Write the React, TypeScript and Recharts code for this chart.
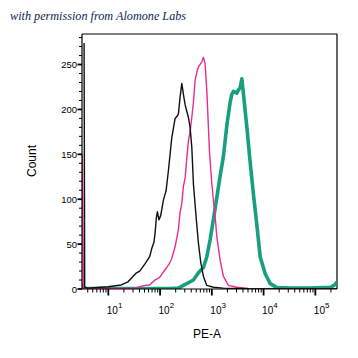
import { LineChart, Line, XAxis, YAxis, ReferenceLine } from "recharts";

// ─── Data (PE-A intensity vs. event count) ───────────────

// black: unstained control
const unstainedPE = [3.4, 3.5, 4.0, 6.9, 9.9, 17.8, 24, 30, 35, 40.5, 51, 63, 69, 76, 80, 85, 89, 95, 103, 116, 127, 131, 145, 168, 195, 211, 226, 244, 263, 282, 305, 328, 353, 380, 410, 441, 497, 551, 613, 688, 800, 1074, 1655, 5000, 262144];
const unstainedCount = [274, 2, 1, 2, 2.5, 4.5, 8, 14, 18, 20, 28, 36, 45, 52, 62, 80, 86, 77, 82, 99, 107, 110, 132, 168, 190, 192, 195, 214, 229, 217, 205, 198, 191, 180, 158, 117, 80, 51, 29, 14, 4, 2, 1, 0.3, 0];

// pink: isotype / blocked
const isotypePE = [3.15, 3.3, 30, 35, 41, 51, 63, 79, 98, 119, 135, 150, 168, 195, 226, 244, 263, 282, 305, 328, 353, 380, 410, 441, 475, 520, 560, 641, 688, 742, 800, 899, 1000, 1159, 1250, 1448, 1676, 2094, 3047, 5000, 262144];
const isotypeCount = [150, 0.5, 0.5, 1.5, 2.5, 4, 4.5, 10, 13, 20, 24, 28, 34, 47, 66, 86, 95, 114, 124, 145, 165, 175, 191, 208, 232, 243, 248, 253, 258, 251, 221, 154, 117, 80, 58, 32, 14, 4, 2, 0.5, 0];

// teal: stained
const stainedPE = [3.1, 3.4, 150, 226, 282, 441, 551, 688, 800, 927, 1074, 1159, 1448, 1676, 1948, 2259, 2436, 2618, 3047, 3273, 3525, 3800, 4085, 4753, 5505, 6379, 7419, 8590, 10740, 13420, 18090, 32700, 79800, 200000, 240000, 262144];
const stainedCount = [6, 0.5, 0.5, 1, 4, 10, 18, 24, 36, 55, 78, 90, 126, 148, 182, 208, 217, 220, 218, 222, 224, 234, 217, 180, 141, 105, 71, 36, 17, 6, 1.5, 1, 1, 2, 5, 8];

// ─── Axis ticks ───────────────────────────────────────────────────────────────

const xMajorTicks = [10, 100, 1000, 10000, 100000];
const xMajorExp = ["1", "2", "3", "4", "5"];
const xDecades = [1, 10, 100, 1000, 10000, 100000];
const xMinorSteps = [2, 3, 4, 5, 6, 7, 8, 9];
const yMajorTicks = [0, 50, 100, 150, 200, 250];
const yTicks = [0, 10, 20, 30, 40, 50, 60, 70, 80, 90, 100, 110, 120, 130, 140, 150, 160, 170, 180, 190, 200, 210, 220, 230, 240, 250, 260, 270, 280];

const X_MIN = 3.1;
const X_MAX = 262144;
const Y_MAX = 284;

const xMinorTicks = xDecades
  .flatMap((d) => xMinorSteps.map((s) => s * d))
  .filter((v) => v > X_MIN && v < X_MAX);
const xTicks = [...xMinorTicks, ...xMajorTicks].sort((a, b) => a - b);

const toPoints = (xs: number[], ys: number[]) => xs.map((x, i) => ({ x, y: ys[i] }));

const unstained = toPoints(unstainedPE, unstainedCount);
const isotype = toPoints(isotypePE, isotypeCount);
const stained = toPoints(stainedPE, stainedCount);

const sans = "'Liberation Sans', Arial, sans-serif";

// ─── Custom ticks ─────────────────────────────────────────────────────────────

function XTick({ x, y, payload }: { x: number; y: number; payload: { value: number } }) {
  const idx = xMajorTicks.indexOf(payload.value);
  const major = idx >= 0;
  return (
    <g>
      <line
        x1={x}
        x2={x}
        y1={y}
        y2={y + (major ? 6.5 : 3.5)}
        stroke="#000"
        strokeWidth={major ? 1.8 : 1}
      />
      {major && (
        <text x={x - 1.5} y={y + 24.5} fontSize={10} fontFamily={sans} fill="#000">
          10
          <tspan dy={-6} fontSize={8}>
            {xMajorExp[idx]}
          </tspan>
        </text>
      )}
    </g>
  );
}

function YTick({ x, y, payload }: { x: number; y: number; payload: { value: number } }) {
  const major = yMajorTicks.includes(payload.value);
  return (
    <g>
      <line
        x1={x - (major ? 4.5 : 3)}
        x2={x}
        y1={y}
        y2={y}
        stroke="#000"
        strokeWidth={major ? 1.8 : 1}
      />
      {major && (
        <text
          x={x - 5}
          y={y + 3.5}
          textAnchor="end"
          fontSize={9.5}
          fontFamily={sans}
          fill="#000"
        >
          {payload.value}
        </text>
      )}
    </g>
  );
}

// ─── Chart ────────────────────────────────────────────────────────────────────

export default function App() {
  return (
    <div style={{ position: "absolute", left: 0, top: 0, width: 358, height: 358, background: "#fff" }}>
      <LineChart width={358} height={358} margin={{ top: 34, right: 21, bottom: 0, left: 0 }}>
        <XAxis
          type="number"
          dataKey="x"
          scale="log"
          domain={[X_MIN, X_MAX]}
          allowDataOverflow
          ticks={xTicks}
          interval={0}
          tickSize={0}
          tickMargin={0}
          tick={XTick}
          height={69}
          axisLine={{ stroke: "#000", strokeWidth: 1.2 }}
        />
        <YAxis
          type="number"
          dataKey="y"
          domain={[0, Y_MAX]}
          allowDataOverflow
          ticks={yTicks}
          interval={0}
          tickSize={0}
          tickMargin={0}
          tick={YTick}
          width={82}
          axisLine={{ stroke: "#000", strokeWidth: 1.2 }}
        />
        <ReferenceLine y={Y_MAX} stroke="#000" strokeWidth={1.2} />
        <ReferenceLine x={X_MAX} stroke="#000" strokeWidth={1.2} />
        <Line
          data={stained}
          dataKey="y"
          type="linear"
          stroke="#1a9e80"
          strokeWidth={3.6}
          strokeLinejoin="round"
          dot={false}
          isAnimationActive={false}
        />
        <Line
          data={isotype}
          dataKey="y"
          type="linear"
          stroke="#e92c90"
          strokeWidth={1.4}
          strokeLinejoin="round"
          dot={false}
          isAnimationActive={false}
        />
        <Line
          data={unstained}
          dataKey="y"
          type="linear"
          stroke="#111"
          strokeWidth={1.4}
          strokeLinejoin="round"
          dot={false}
          isAnimationActive={false}
        />
        <text
          x={10}
          y={20}
          fontSize={12.2}
          fontStyle="italic"
          fontFamily="'Liberation Serif', 'DejaVu Serif', serif"
          fill="#0f1f50"
        >
          with permission from Alomone Labs
        </text>
        <text
          transform="translate(36, 161) rotate(-90)"
          textAnchor="middle"
          fontSize={12}
          fontFamily={sans}
          fill="#000"
        >
          Count
        </text>
        <text x={207} y={338} textAnchor="middle" fontSize={12} fontFamily={sans} fill="#000">
          PE-A
        </text>
      </LineChart>
    </div>
  );
}
